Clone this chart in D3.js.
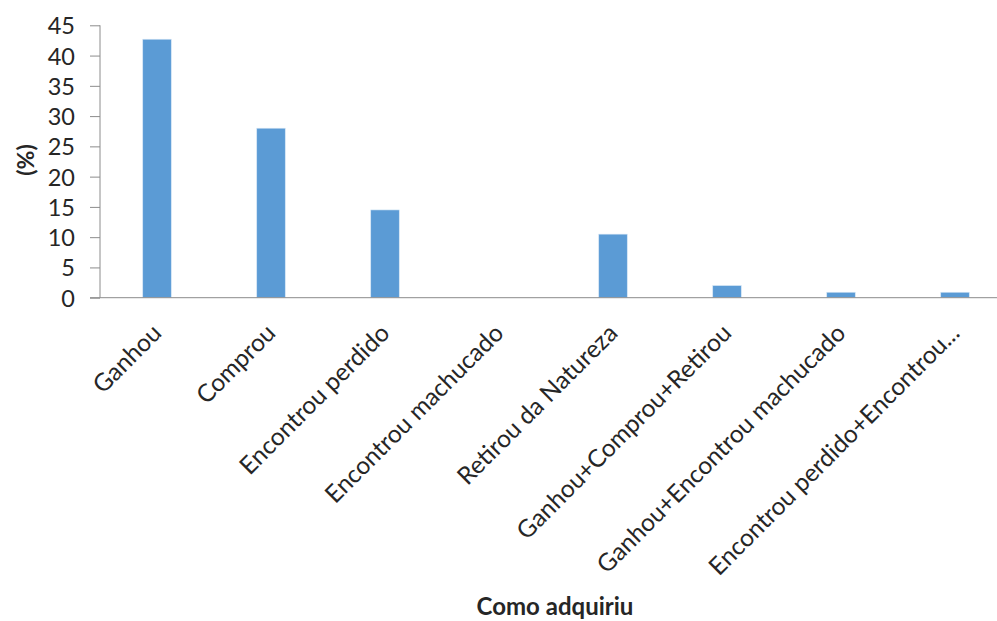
<!DOCTYPE html>
<html><head><meta charset="utf-8">
<script src="https://cdn.jsdelivr.net/npm/d3@7"></script>
<style>body{margin:0;background:#fff}svg{display:block}</style>
</head><body>
<script>
const categories = ["Ganhou","Comprou","Encontrou perdido","Encontrou machucado","Retirou da Natureza","Ganhou+Comprou+Retirou","Ganhou+Encontrou machucado","Encontrou perdido+Encontrou..."];
const values = [42.7, 28.0, 14.5, 0, 10.5, 2.0, 0.9, 0.9];
const yTicks = [0,5,10,15,20,25,30,35,40,45];
const yTitle = "(%)";
const xTitle = "Como adquiriu";

const W = 997, H = 621;
const svg = d3.select("body").append("svg").attr("width", W).attr("height", H);
const font = "Lato, 'Open Sans', sans-serif";

const x = d3.scaleBand().domain(categories).range([100, 1012]).paddingInner(0.75).paddingOuter(0.375);
const y = d3.scaleLinear().domain([0,45]).range([297.7, 25.3]);

// bars
svg.append("g").selectAll("rect").data(values).join("rect")
  .attr("x", (d,i)=>x(categories[i]))
  .attr("width", x.bandwidth())
  .attr("y", d=>y(d))
  .attr("height", d=>y(0)-y(d))
  .attr("fill", "#5b9bd5")
  .attr("stroke", "#d6e6f5").attr("stroke-width", 0.6);

// y axis
const yAxis = d3.axisLeft(y).tickValues(yTicks).tickSize(10).tickPadding(15);
const gy = svg.append("g").attr("transform","translate(100,0)").call(yAxis);
gy.select(".domain").attr("stroke","#8c8c8c").attr("d","M0,25.3V297.7");
gy.selectAll(".tick line").attr("stroke","#8c8c8c");
gy.selectAll(".tick text").attr("font-family",font).attr("font-size",23.5).attr("fill","#262626").attr("dy","0.36em");

// x axis line
const xAxis = d3.axisBottom(x).tickSize(0).tickPadding(0);
const gx = svg.append("g").attr("transform",`translate(0,${y(0)})`).call(xAxis);
gx.select(".domain").attr("stroke","#8c8c8c").attr("d","M90,0H1012");
gx.selectAll(".tick text")
  .attr("font-family",font).attr("font-size",24.5).attr("fill","#262626")
  .attr("text-anchor","end").attr("dy",null).attr("y",null)
  .attr("transform","translate(6,37) rotate(-45)");

// titles
svg.append("text").attr("x",555).attr("y",615).attr("text-anchor","middle")
  .attr("font-family",font).attr("font-weight","bold").attr("font-size",24).attr("fill","#262626").text(xTitle);
svg.append("text").attr("transform","translate(34,160) rotate(-90)").attr("text-anchor","middle")
  .attr("font-family",font).attr("font-weight","bold").attr("font-size",23).attr("fill","#262626").text(yTitle);
</script>
</body></html>
